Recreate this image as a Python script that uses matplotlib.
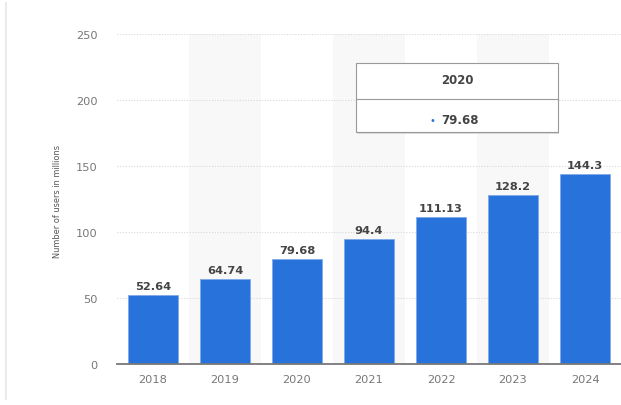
import matplotlib
matplotlib.use("Agg")
import matplotlib.pyplot as plt
from matplotlib.patches import Rectangle
from matplotlib.lines import Line2D

years = ["2018", "2019", "2020", "2021", "2022", "2023", "2024"]
users = [52.64, 64.74, 79.68, 94.4, 111.13, 128.2, 144.3]
value_labels = ["52.64", "64.74", "79.68", "94.4", "111.13", "128.2", "144.3"]
yticks = [0, 50, 100, 150, 200, 250]
tooltip_year = "2020"
tooltip_value = "79.68"

W, H = 621, 406
fig = plt.figure(figsize=(W / 100, H / 100), dpi=100)
fig.patch.set_facecolor("white")
ax = fig.add_axes([117 / W, 1 - 365 / H, (621 - 117) / W, (365 - 35) / H])
ax.set_facecolor("white")

x = list(range(len(years)))
# alternating background bands
for i in x:
    if i % 2 == 1:
        ax.axvspan(i - 0.5, i + 0.5, color="#f8f8f8", zorder=0, lw=0)

for t in yticks[1:]:
    ax.axhline(t, color="#d9d9d9", lw=0.8, ls=(0, (1, 1.5)), zorder=1)

bars = ax.bar(x, users, width=0.69, color="#2872dc", edgecolor="#7fa9e8", lw=0.6, zorder=2)
for xi, v, lab in zip(x, users, value_labels):
    ax.text(xi, v + 3, lab, ha="center", va="bottom", fontsize=8.2, fontweight="bold",
            color="#444444", zorder=3)

ax.set_xlim(-0.5, len(years) - 0.5)
ax.set_ylim(0, 250)
ax.set_xticks(x)
ax.set_xticklabels(years)
ax.set_yticks(yticks)
ax.tick_params(axis="both", length=0, colors="#777777", labelsize=8.2)
ax.tick_params(axis="x", pad=7)
ax.tick_params(axis="y", pad=14)
for s in ["top", "right", "left"]:
    ax.spines[s].set_visible(False)
ax.spines["bottom"].set_color("#777777")
ax.spines["bottom"].set_linewidth(1.3)
ax.spines["bottom"].set_zorder(4)

fig.text(57 / W, 1 - 201 / H, "Number of users in millions", rotation=90, ha="center",
         va="center", fontsize=6.6, color="#555555", stretch="condensed")

# left frame line
fig.add_artist(Line2D([6 / W, 6 / W], [1 - 400 / H, 1 - 4 / H], color="#e6e6e6", lw=1.2))

# tooltip box
bx0, by0, bx1, by1 = 356, 64, 558, 133
fig.add_artist(Rectangle((bx0 / W + 0.002, 1 - by1 / H - 0.004), (bx1 - bx0) / W, (by1 - by0) / H,
                         facecolor="#dddddd", edgecolor="none", zorder=9))
fig.add_artist(Rectangle((bx0 / W, 1 - by1 / H), (bx1 - bx0) / W, (by1 - by0) / H,
                         facecolor="white", edgecolor="#999999", lw=0.8, zorder=10))
fig.add_artist(Line2D([bx0 / W, bx1 / W], [1 - 100 / H, 1 - 100 / H], color="#999999", lw=0.8, zorder=11))
fig.text((bx0 + bx1) / 2 / W, 1 - 81 / H, tooltip_year, ha="center", va="center", fontsize=8.5,
         fontweight="bold", color="#444444", zorder=12)
fig.text(432 / W, 1 - 121 / H, "•", ha="center", va="center", fontsize=7, color="#2872dc", zorder=12)
fig.text(441 / W, 1 - 121 / H, tooltip_value, ha="left", va="center", fontsize=8.5,
         fontweight="bold", color="#444444", zorder=12)

fig.savefig("out.png", dpi=100)
